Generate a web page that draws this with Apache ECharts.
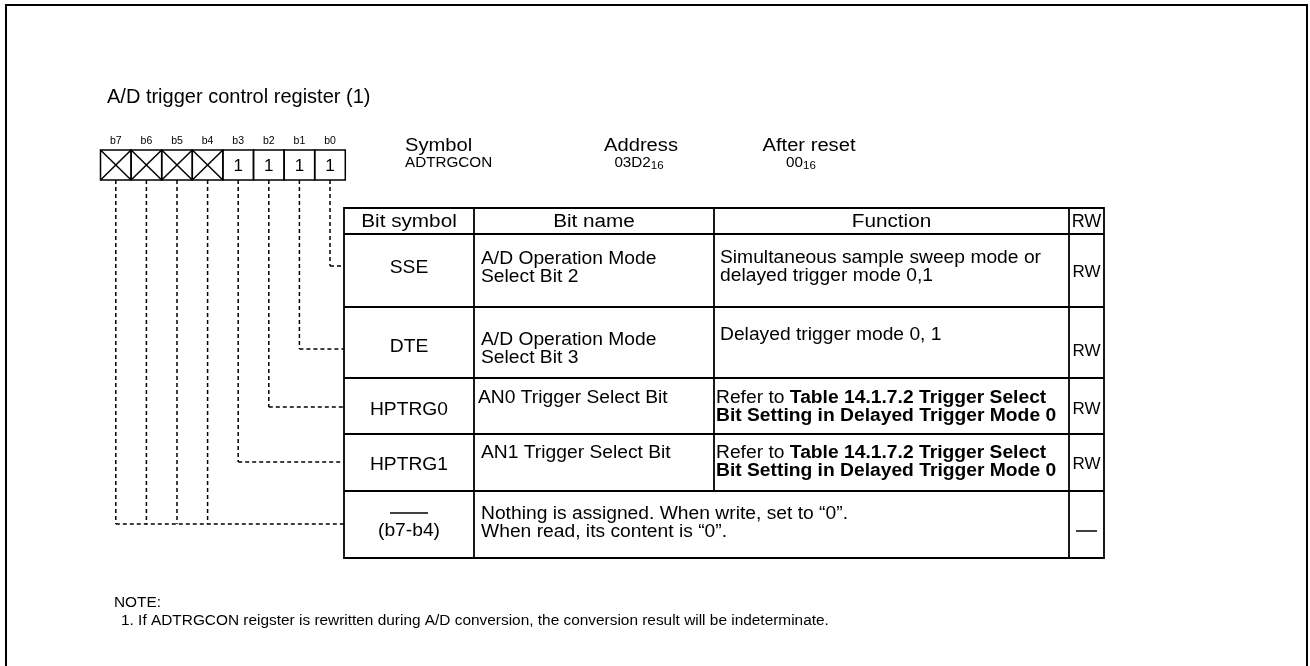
<!DOCTYPE html>
<html><head><meta charset="utf-8">
<script src="https://cdn.jsdelivr.net/npm/echarts@6/dist/echarts.min.js"></script>
<style>html,body{margin:0;padding:0;background:#fff}#c{width:1310px;height:666px}</style>
</head><body><div id="c"></div>
<script>
// ---------- content ----------
const title = 'A/D trigger control register (1)';
const bitLabels = ['b7', 'b6', 'b5', 'b4', 'b3', 'b2', 'b1', 'b0'];
const bitValues = ['', '', '', '', '1', '1', '1', '1'];
const bitUnused = [true, true, true, true, false, false, false, false];
const infoHeads = ['Symbol', 'Address', 'After reset'];
const infoMain = ['ADTRGCON', '03D2', '00'];
const infoSub = ['', '16', '16'];
const tableHeads = ['Bit symbol', 'Bit name', 'Function', 'RW'];
const bitSymbols = ['SSE', 'DTE', 'HPTRG0', 'HPTRG1', '(b7-b4)'];
const bitNames = [
  'A/D Operation Mode\nSelect Bit 2',
  'A/D Operation Mode\nSelect Bit 3',
  'AN0 Trigger Select Bit',
  'AN1 Trigger Select Bit',
  'Nothing is assigned. When write, set to \u201c0\u201d.\nWhen read, its content is \u201c0\u201d.'
];
const functions = [
  'Simultaneous sample sweep mode or\ndelayed trigger mode 0,1',
  'Delayed trigger mode 0, 1',
  'Refer to {b|Table 14.1.7.2 Trigger Select}\n{b|Bit Setting in Delayed Trigger Mode 0}',
  'Refer to {b|Table 14.1.7.2 Trigger Select}\n{b|Bit Setting in Delayed Trigger Mode 0}',
  ''
];
const rwValues = ['RW', 'RW', 'RW', 'RW', ''];
const rowBits = [['b0'], ['b1'], ['b2'], ['b3'], ['b7', 'b6', 'b5', 'b4']];
const notes = ['NOTE:', '1. If ADTRGCON reigster is rewritten during A/D conversion, the conversion result will be indeterminate.'];

// ---------- layout ----------
const FONT = '"Liberation Sans", Arial, Helvetica, sans-serif';
const BOX_X0 = 100.5, BOX_W = 30.6, BOX_TOP = 150, BOX_BOT = 180;
const COLS = [344, 474, 714, 1069, 1104];
const ROWS = [208, 234, 307, 378, 434, 491, 558];
const CONN_Y = [266, 349, 407, 462, 524];
const SYM_Y = [268, 347, 410, 465, 531];
const NAME_Y = [268, 349, 398, 453, 523];
const FUNC_Y = [267, 335, 407, 462, 0];
const RW_Y = [272, 351, 409, 464, 531];
const TFS = 17.5, TSX = 1.1, TLH = 17.5;

const g = [];
function txt(x, y, s, o) {
  o = o || {};
  const st = Object.assign({text: s, fill: '#000', fontFamily: FONT, fontSize: o.fs || TFS,
    align: o.align || 'left', verticalAlign: o.va || 'middle', lineHeight: o.lh}, o.style || {});
  g.push({type: 'text', x: x, y: y, scaleX: o.sx || 1, silent: true, style: st});
}
function line(x1, y1, x2, y2, w, dash) {
  g.push({type: 'line', silent: true, shape: {x1: x1, y1: y1, x2: x2, y2: y2},
    style: {stroke: '#000', lineWidth: w || 1.5, lineDash: dash || null}});
}
function rect(x, y, w, h, lw) {
  g.push({type: 'rect', silent: true, shape: {x: x, y: y, width: w, height: h},
    style: {fill: 'none', stroke: '#000', lineWidth: lw || 1.5}});
}

// outer frame
rect(6, 5, 1301, 700, 2);
// title
txt(107, 97, title, {fs: 20});

// bit boxes
bitLabels.forEach(function (lb, i) {
  const x = BOX_X0 + i * BOX_W, cx = x + BOX_W / 2;
  txt(cx, 141, lb, {fs: 10.5, align: 'center'});
  rect(x, BOX_TOP, BOX_W, BOX_BOT - BOX_TOP, 1.5);
  if (bitUnused[i]) {
    line(x, BOX_TOP, x + BOX_W, BOX_BOT, 1.5);
    line(x + BOX_W, BOX_TOP, x, BOX_BOT, 1.5);
  } else {
    txt(cx, (BOX_TOP + BOX_BOT) / 2 + 1, bitValues[i], {fs: 17, align: 'center'});
  }
});

// symbol / address / after reset
const infoX = [405, 641, 809];
const infoAlign = ['left', 'center', 'center'];
const infoValX = [405, 639, 801];
infoHeads.forEach(function (h, i) {
  txt(infoX[i], 146, h, {fs: 18, sx: 1.12, align: infoAlign[i]});
  const s = infoSub[i] ? infoMain[i] + '{s|' + infoSub[i] + '}' : infoMain[i];
  txt(infoValX[i], 163, s, {fs: 14.5, sx: 1.05, align: infoAlign[i],
    style: {rich: {s: {fontSize: 11, fontFamily: FONT, verticalAlign: 'bottom', lineHeight: 17}}}});
});

// connectors (dashed)
const DASH = [4, 3];
rowBits.forEach(function (bits, r) {
  const y = CONN_Y[r];
  let minX = Infinity;
  bits.forEach(function (b) {
    const i = bitLabels.indexOf(b);
    const cx = BOX_X0 + i * BOX_W + BOX_W / 2;
    minX = Math.min(minX, cx);
    line(cx, BOX_BOT, cx, y, 1.5, DASH);
  });
  line(minX, y, COLS[0], y, 1.5, DASH);
});

// table
const tTop = ROWS[0], tBot = ROWS[ROWS.length - 1];
rect(COLS[0], tTop, COLS[4] - COLS[0], tBot - tTop, 1.8);
ROWS.slice(1, -1).forEach(function (y) { line(COLS[0], y, COLS[4], y, 1.8); });
line(COLS[1], tTop, COLS[1], tBot, 1.8);
line(COLS[2], tTop, COLS[2], ROWS[5], 1.8);
line(COLS[3], tTop, COLS[3], tBot, 1.8);

const headX = [(COLS[0] + COLS[1]) / 2, (COLS[1] + COLS[2]) / 2, (COLS[2] + COLS[3]) / 2, (COLS[3] + COLS[4]) / 2];
tableHeads.forEach(function (h, i) {
  txt(headX[i], (ROWS[0] + ROWS[1]) / 2 + 1, h, {align: 'center', fs: 18, sx: i === 3 ? 1 : 1.15});
});

bitSymbols.forEach(function (s, r) {
  txt(headX[0], SYM_Y[r], s, {align: 'center', sx: TSX});
  txt(r === 2 ? 478 : 481, NAME_Y[r], bitNames[r], {lh: TLH, sx: TSX});
  if (functions[r]) {
    txt(r >= 2 ? 716 : 720, FUNC_Y[r], functions[r], {lh: 18.5, sx: TSX,
      style: {rich: {b: {fontWeight: 'bold', fontSize: TFS, fontFamily: FONT, lineHeight: 18.5}}}});
  }
  if (rwValues[r]) txt(headX[3], RW_Y[r], rwValues[r], {align: 'center', fs: 17});
});
// "not assigned" dashes
line(390, 513, 428, 513, 1.5);
line(1076, 531, 1097, 531, 1.5);

// notes
txt(114, 603, notes[0], {fs: 14, sx: 1.1});
txt(121, 621, notes[1], {fs: 14, sx: 1.1});

const chart = echarts.init(document.getElementById('c'), null, {renderer: 'canvas'});
chart.setOption({animation: false, graphic: {elements: g}});
</script></body></html>
